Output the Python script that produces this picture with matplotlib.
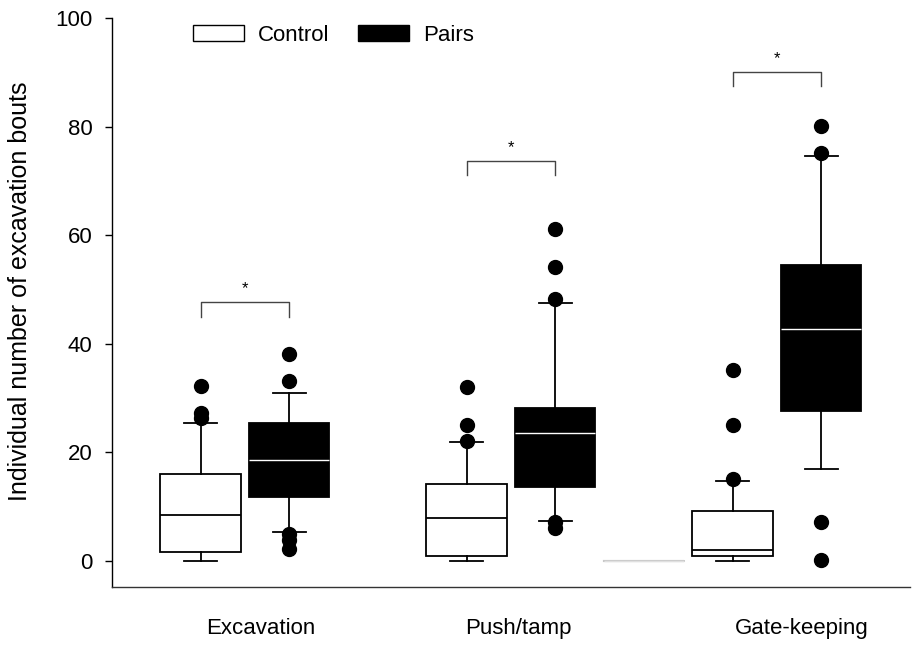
import matplotlib
matplotlib.use("Agg")
import matplotlib.pyplot as plt
from matplotlib.patches import Patch

plt.rcParams['font.family'] = ['Liberation Sans', 'DejaVu Sans']

# behaviour groups and tick labels
groups = ['Excavation', 'Push/tamp', 'Gate-keeping']
label_pos = [1.059, 2.029, 3.092]

# box statistics: q1, median, q3, whisker low, whisker high
ctrl_q1 = [1.7, 0.9, 0.9]
ctrl_med = [8.5, 8.0, 2.0]
ctrl_q3 = [16.0, 14.2, 9.2]
ctrl_lo = [0.0, 0.0, 0.0]
ctrl_hi = [25.4, 21.9, 14.8]
ctrl_fliers = [[26.3, 27.2, 32.2], [22.1, 25.1, 32.1], [15.1, 25.1, 35.2]]

pair_q1 = [11.8, 13.6, 27.6]
pair_med = [18.6, 23.5, 42.8]
pair_q3 = [25.4, 28.1, 54.5]
pair_lo = [5.4, 7.4, 16.9]
pair_hi = [31.0, 47.6, 74.5]
pair_fliers = [[2.2, 3.9, 5.0, 33.2, 38.2], [6.0, 7.1, 48.2, 54.1, 61.1],
               [0.1, 7.1, 75.1, 80.2]]

# significance brackets (bracket top) and star
bracket_y = [47.7, 73.7, 90.1]
star = ['*', '*', '*']

offset = 0.1665
box_w = 0.3025
cap_w = 0.124

fig = plt.figure(figsize=(9.14, 6.46), dpi=100)
ax = fig.add_axes([0.1225, 0.0909, 0.8731, 0.8812])


def stats(q1, med, q3, lo, hi, fl):
    return dict(q1=q1, med=med, q3=q3, whislo=lo, whishi=hi, fliers=fl)


ctrl_stats = [stats(*v) for v in zip(ctrl_q1, ctrl_med, ctrl_q3, ctrl_lo, ctrl_hi, ctrl_fliers)]
pair_stats = [stats(*v) for v in zip(pair_q1, pair_med, pair_q3, pair_lo, pair_hi, pair_fliers)]

lw = 1.3
flier = dict(marker='o', markerfacecolor='black', markeredgecolor='black', markersize=10)

ax.bxp(ctrl_stats, positions=[i + 1 - offset for i in range(3)], widths=box_w,
       capwidths=cap_w, patch_artist=True, showfliers=True, flierprops=flier,
       boxprops=dict(facecolor='white', edgecolor='black', linewidth=lw),
       medianprops=dict(color='black', linewidth=lw),
       whiskerprops=dict(color='black', linewidth=lw),
       capprops=dict(color='black', linewidth=lw), manage_ticks=False)

ax.bxp(pair_stats, positions=[i + 1 + offset for i in range(3)], widths=box_w,
       capwidths=cap_w, patch_artist=True, showfliers=True, flierprops=flier,
       boxprops=dict(facecolor='black', edgecolor='black', linewidth=lw),
       medianprops=dict(color='white', linewidth=1.0),
       whiskerprops=dict(color='black', linewidth=lw),
       capprops=dict(color='black', linewidth=lw), manage_ticks=False)

# empty (all zero) box between push/tamp and gate-keeping
ax.bxp([stats(0, 0, 0, 0, 0, [])], positions=[2.5], widths=box_w, capwidths=0,
       boxprops=dict(color='#c8c8c8', linewidth=1.5),
       medianprops=dict(color='#e0e0e0', linewidth=1.0),
       whiskerprops=dict(color='#c8c8c8'), capprops=dict(color='#c8c8c8'),
       showfliers=False, manage_ticks=False)

# significance brackets
for i, (y, s) in enumerate(zip(bracket_y, star)):
    x0 = i + 1 - offset
    x1 = i + 1 + offset
    ax.plot([x0, x0, x1, x1], [y - 2.7, y, y, y - 2.7], color='#444444', lw=1.0)
    ax.text(i + 1, y + 1.6, s, ha='center', va='baseline', fontsize=12)

ax.set_xlim(0.5, 3.5)
ax.set_ylim(-4.85, 100)
ax.set_yticks([0, 20, 40, 60, 80, 100])
ax.set_xticks(label_pos)
ax.set_xticklabels(groups)
ax.tick_params(axis='x', length=0, pad=22, labelsize=16)
ax.tick_params(axis='y', length=5, width=1, pad=9, labelsize=16, direction='out')

for side in ['top', 'right']:
    ax.spines[side].set_visible(False)
ax.spines['left'].set_linewidth(1.0)
ax.spines['bottom'].set_linewidth(1.0)
ax.spines['bottom'].set_color('#333333')

ax.set_ylabel('Individual number of excavation bouts', fontsize=18)
ax.yaxis.set_label_coords(-0.1003, 0.52)

handles = [Patch(facecolor='white', edgecolor='black', linewidth=1.0, label='Control'),
           Patch(facecolor='black', edgecolor='black', label='Pairs')]
ax.legend(handles=handles, loc='center left', bbox_to_anchor=(192.7 / 914, 1 - 35.5 / 646),
          bbox_transform=fig.transFigure, ncol=2, frameon=False, fontsize=16,
          handlelength=2.3, handleheight=0.7, handletextpad=0.62, columnspacing=1.3,
          borderpad=0, borderaxespad=0)

fig.savefig('out.png', dpi=100)
